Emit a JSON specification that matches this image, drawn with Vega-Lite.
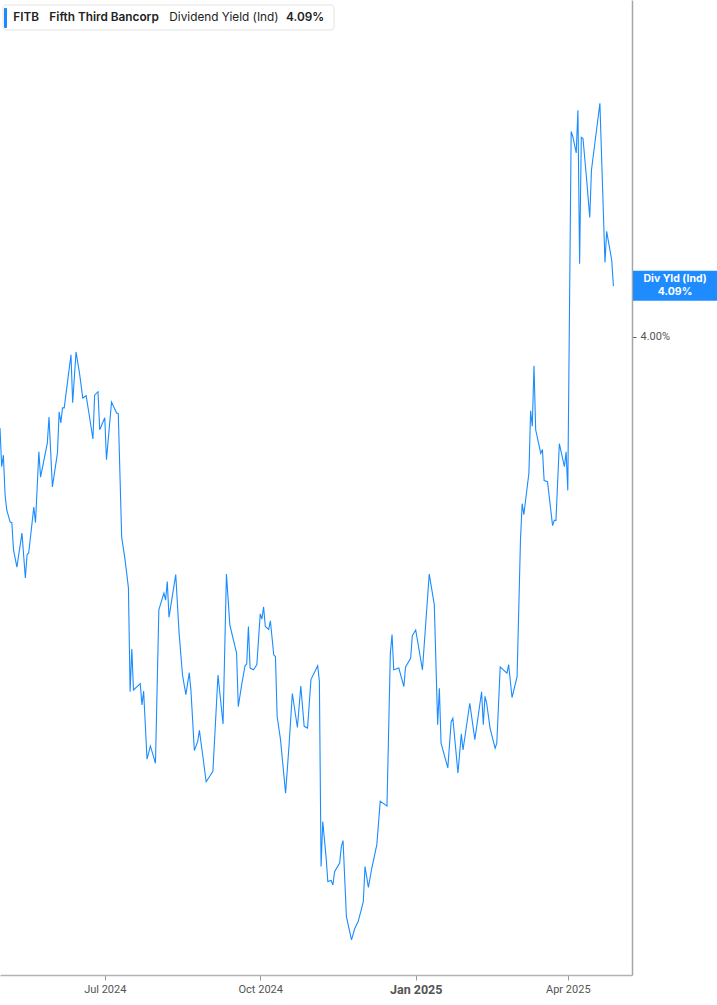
{
  "$schema": "https://vega.github.io/schema/vega-lite/v6.json",
  "width": 632,
  "height": 975,
  "padding": {"left": 0, "top": 0, "right": 85, "bottom": 30},
  "autosize": {"type": "none"},
  "background": "white",
  "config": {"view": {"stroke": null}},
  "datasets": {
    "series": [
      {"date":"2024-04-30","yield":3.842},{"date":"2024-05-01","yield":3.775},{"date":"2024-05-02","yield":3.795},{"date":"2024-05-03","yield":3.726},{"date":"2024-05-04","yield":3.700},{"date":"2024-05-06","yield":3.679},{"date":"2024-05-07","yield":3.678},{"date":"2024-05-08","yield":3.631},{"date":"2024-05-10","yield":3.601},{"date":"2024-05-13","yield":3.660},{"date":"2024-05-15","yield":3.582},{"date":"2024-05-16","yield":3.622},{"date":"2024-05-17","yield":3.626},{"date":"2024-05-20","yield":3.705},{"date":"2024-05-21","yield":3.678},{"date":"2024-05-23","yield":3.801},{"date":"2024-05-24","yield":3.757},{"date":"2024-05-28","yield":3.816},{"date":"2024-05-29","yield":3.861},{"date":"2024-05-31","yield":3.740},
      {"date":"2024-06-03","yield":3.799},{"date":"2024-06-04","yield":3.870},{"date":"2024-06-05","yield":3.851},{"date":"2024-06-06","yield":3.877},{"date":"2024-06-07","yield":3.877},{"date":"2024-06-11","yield":3.969},{"date":"2024-06-12","yield":3.886},{"date":"2024-06-14","yield":3.974},{"date":"2024-06-16","yield":3.938},{"date":"2024-06-18","yield":3.894},{"date":"2024-06-20","yield":3.898},{"date":"2024-06-24","yield":3.823},{"date":"2024-06-25","yield":3.899},{"date":"2024-06-27","yield":3.905},{"date":"2024-06-28","yield":3.839},
      {"date":"2024-07-01","yield":3.860},{"date":"2024-07-02","yield":3.787},{"date":"2024-07-05","yield":3.887},{"date":"2024-07-08","yield":3.868},{"date":"2024-07-09","yield":3.867},{"date":"2024-07-11","yield":3.653},{"date":"2024-07-13","yield":3.614},{"date":"2024-07-15","yield":3.565},{"date":"2024-07-16","yield":3.385},{"date":"2024-07-17","yield":3.459},{"date":"2024-07-18","yield":3.388},{"date":"2024-07-22","yield":3.399},{"date":"2024-07-23","yield":3.362},{"date":"2024-07-24","yield":3.386},{"date":"2024-07-26","yield":3.268},{"date":"2024-07-28","yield":3.291},{"date":"2024-07-31","yield":3.261},
      {"date":"2024-08-02","yield":3.527},{"date":"2024-08-05","yield":3.556},{"date":"2024-08-06","yield":3.544},{"date":"2024-08-07","yield":3.576},{"date":"2024-08-08","yield":3.514},{"date":"2024-08-12","yield":3.588},{"date":"2024-08-14","yield":3.486},{"date":"2024-08-16","yield":3.414},{"date":"2024-08-18","yield":3.380},{"date":"2024-08-20","yield":3.418},{"date":"2024-08-21","yield":3.387},{"date":"2024-08-23","yield":3.283},{"date":"2024-08-25","yield":3.299},{"date":"2024-08-26","yield":3.318},{"date":"2024-08-28","yield":3.274},{"date":"2024-08-30","yield":3.229},
      {"date":"2024-09-03","yield":3.247},{"date":"2024-09-06","yield":3.414},{"date":"2024-09-09","yield":3.329},{"date":"2024-09-11","yield":3.589},{"date":"2024-09-13","yield":3.501},{"date":"2024-09-17","yield":3.452},{"date":"2024-09-18","yield":3.359},{"date":"2024-09-20","yield":3.397},{"date":"2024-09-22","yield":3.430},{"date":"2024-09-23","yield":3.433},{"date":"2024-09-24","yield":3.498},{"date":"2024-09-25","yield":3.426},{"date":"2024-09-27","yield":3.423},{"date":"2024-09-29","yield":3.432},
      {"date":"2024-10-01","yield":3.520},{"date":"2024-10-02","yield":3.511},{"date":"2024-10-03","yield":3.532},{"date":"2024-10-04","yield":3.498},{"date":"2024-10-06","yield":3.493},{"date":"2024-10-07","yield":3.508},{"date":"2024-10-09","yield":3.449},{"date":"2024-10-10","yield":3.446},{"date":"2024-10-11","yield":3.342},{"date":"2024-10-13","yield":3.302},{"date":"2024-10-16","yield":3.209},{"date":"2024-10-18","yield":3.290},{"date":"2024-10-20","yield":3.382},{"date":"2024-10-23","yield":3.323},{"date":"2024-10-25","yield":3.395},{"date":"2024-10-27","yield":3.325},{"date":"2024-10-29","yield":3.322},{"date":"2024-10-31","yield":3.406},
      {"date":"2024-11-04","yield":3.430},{"date":"2024-11-05","yield":3.403},{"date":"2024-11-06","yield":3.082},{"date":"2024-11-07","yield":3.160},{"date":"2024-11-09","yield":3.097},{"date":"2024-11-10","yield":3.056},{"date":"2024-11-12","yield":3.058},{"date":"2024-11-13","yield":3.050},{"date":"2024-11-14","yield":3.073},{"date":"2024-11-17","yield":3.088},{"date":"2024-11-18","yield":3.117},{"date":"2024-11-19","yield":3.127},{"date":"2024-11-21","yield":2.995},{"date":"2024-11-24","yield":2.955},{"date":"2024-11-26","yield":2.975},{"date":"2024-11-28","yield":2.987},
      {"date":"2024-12-01","yield":3.021},{"date":"2024-12-02","yield":3.082},{"date":"2024-12-04","yield":3.046},{"date":"2024-12-06","yield":3.079},{"date":"2024-12-09","yield":3.120},{"date":"2024-12-11","yield":3.195},{"date":"2024-12-13","yield":3.191},{"date":"2024-12-15","yield":3.187},{"date":"2024-12-17","yield":3.452},{"date":"2024-12-18","yield":3.484},{"date":"2024-12-19","yield":3.423},{"date":"2024-12-22","yield":3.426},{"date":"2024-12-25","yield":3.394},{"date":"2024-12-26","yield":3.428},{"date":"2024-12-29","yield":3.443},{"date":"2024-12-30","yield":3.482},
      {"date":"2025-01-01","yield":3.492},{"date":"2025-01-05","yield":3.423},{"date":"2025-01-09","yield":3.589},{"date":"2025-01-12","yield":3.536},{"date":"2025-01-14","yield":3.328},{"date":"2025-01-15","yield":3.391},{"date":"2025-01-16","yield":3.296},{"date":"2025-01-20","yield":3.253},{"date":"2025-01-22","yield":3.333},{"date":"2025-01-23","yield":3.339},{"date":"2025-01-26","yield":3.244},{"date":"2025-01-28","yield":3.312},{"date":"2025-01-29","yield":3.284},
      {"date":"2025-02-02","yield":3.365},{"date":"2025-02-05","yield":3.302},{"date":"2025-02-09","yield":3.385},{"date":"2025-02-10","yield":3.328},{"date":"2025-02-11","yield":3.377},{"date":"2025-02-12","yield":3.365},{"date":"2025-02-14","yield":3.322},{"date":"2025-02-17","yield":3.287},{"date":"2025-02-18","yield":3.296},{"date":"2025-02-20","yield":3.428},{"date":"2025-02-24","yield":3.417},{"date":"2025-02-25","yield":3.432},{"date":"2025-02-27","yield":3.375},
      {"date":"2025-03-02","yield":3.411},{"date":"2025-03-04","yield":3.648},{"date":"2025-03-05","yield":3.711},{"date":"2025-03-06","yield":3.692},{"date":"2025-03-09","yield":3.764},{"date":"2025-03-10","yield":3.872},{"date":"2025-03-11","yield":3.845},{"date":"2025-03-12","yield":3.950},{"date":"2025-03-13","yield":3.839},{"date":"2025-03-16","yield":3.798},{"date":"2025-03-17","yield":3.805},{"date":"2025-03-18","yield":3.751},{"date":"2025-03-20","yield":3.749},{"date":"2025-03-23","yield":3.673},{"date":"2025-03-24","yield":3.682},{"date":"2025-03-25","yield":3.682},{"date":"2025-03-27","yield":3.815},{"date":"2025-03-30","yield":3.775},{"date":"2025-03-31","yield":3.801},
      {"date":"2025-04-01","yield":3.734},{"date":"2025-04-03","yield":4.356},{"date":"2025-04-04","yield":4.347},{"date":"2025-04-06","yield":4.319},{"date":"2025-04-07","yield":4.393},{"date":"2025-04-08","yield":4.127},{"date":"2025-04-09","yield":4.346},{"date":"2025-04-10","yield":4.344},{"date":"2025-04-12","yield":4.278},{"date":"2025-04-14","yield":4.207},{"date":"2025-04-15","yield":4.289},{"date":"2025-04-20","yield":4.405},{"date":"2025-04-23","yield":4.129},{"date":"2025-04-24","yield":4.183},{"date":"2025-04-27","yield":4.133},{"date":"2025-04-28","yield":4.088}
    ],
    "legendBox": [{"date":"2024-05-01T18:36:00Z","date2":"2024-11-13T15:50:00Z","yield":4.5754,"yield2":4.5321}],
    "legendBar": [{"date":"2024-05-02T08:48:00Z","date2":"2024-05-04T03:25:00Z","yield":4.5702,"yield2":4.5355}],
    "legendBold": [
      {"date":"2024-05-07T21:00:00Z","yield":4.5537,"label":"FITB"},
      {"date":"2024-05-29T05:00:00Z","yield":4.5537,"label":"Fifth Third Bancorp"},
      {"date":"2024-10-16T06:00:00Z","yield":4.5537,"label":"4.09%"}
    ],
    "legendNormal": [
      {"date":"2024-08-08T05:00:00Z","yield":4.5537,"label":"Dividend Yield (Ind)"}
    ],
    "tagBox": [{"date":"2025-05-09T14:24:00Z","date2":"2025-06-30T00:00:00Z","yield":4.1149,"yield2":4.0629}],
    "tagText": [
      {"date":"2025-06-03T12:00:00Z","yield":4.0997,"label":"Div Yld (Ind)"},
      {"date":"2025-06-03T12:00:00Z","yield":4.0771,"label":"4.09%"}
    ]
  },
  "encoding": {
    "x": {
      "field": "date",
      "type": "temporal",
      "scale": {"type": "utc", "domain": [{"year": 2024, "month": 4, "date": 30, "utc": true}, {"year": 2025, "month": 5, "date": 9, "utc": true}]},
      "axis": {
        "title": null,
        "grid": false,
        "values": [
          {"year": 2024, "month": 7, "date": 1, "utc": true},
          {"year": 2024, "month": 10, "date": 1, "utc": true},
          {"year": 2025, "month": 1, "date": 1, "utc": true},
          {"year": 2025, "month": 4, "date": 1, "utc": true}
        ],
        "labelExpr": "utcFormat(datum.value, '%b %Y')",
        "domainColor": "#b3b3b3",
        "domainWidth": 1.5,
        "tickColor": "#999999",
        "tickSize": 5,
        "labelColor": "#555555",
        "labelFont": "Roboto",
        "labelFontSize": {"condition": {"test": "utcmonth(datum.value) === 0", "value": 12.5}, "value": 11},
        "labelFontWeight": {"condition": {"test": "utcmonth(datum.value) === 0", "value": "bold"}, "value": "normal"},
        "labelPadding": 3
      }
    },
    "y": {
      "field": "yield",
      "type": "quantitative",
      "scale": {"domain": [2.894, 4.584], "zero": false, "nice": false},
      "axis": {
        "title": null,
        "orient": "right",
        "grid": false,
        "values": [4.0],
        "labelExpr": "format(datum.value, '.2f') + '%'",
        "domainColor": "#a6a6a6",
        "domainWidth": 1.5,
        "tickColor": "#666666",
        "tickSize": 4,
        "labelColor": "#555555",
        "labelFont": "Roboto",
        "labelFontSize": 11,
        "labelPadding": 4
      }
    }
  },
  "layer": [
    {
      "data": {"name": "legendBox"},
      "mark": {"type": "rect", "fill": "white", "stroke": "#e3e3e3", "strokeWidth": 1, "cornerRadius": 3},
      "encoding": {"x2": {"field": "date2"}, "y2": {"field": "yield2"}}
    },
    {
      "data": {"name": "legendBar"},
      "mark": {"type": "rect", "fill": "#1e88ff", "cornerRadius": 1},
      "encoding": {"x2": {"field": "date2"}, "y2": {"field": "yield2"}}
    },
    {
      "data": {"name": "series"},
      "mark": {"type": "line", "color": "#1a8cff", "strokeWidth": 1.1, "interpolate": "linear"},
      "encoding": {}
    },
    {
      "data": {"name": "legendBold"},
      "mark": {"type": "text", "align": "left", "baseline": "middle", "font": "Inter", "fontSize": 11.8, "fontWeight": 600, "color": "#222222"},
      "encoding": {"text": {"field": "label"}}
    },
    {
      "data": {"name": "legendNormal"},
      "mark": {"type": "text", "align": "left", "baseline": "middle", "font": "Inter", "fontSize": 11.8, "fontWeight": "normal", "color": "#222222"},
      "encoding": {"text": {"field": "label"}}
    },
    {
      "data": {"name": "tagBox"},
      "mark": {"type": "rect", "fill": "#1e8cff"},
      "encoding": {"x2": {"field": "date2"}, "y2": {"field": "yield2"}}
    },
    {
      "data": {"name": "tagText"},
      "mark": {"type": "text", "align": "center", "baseline": "middle", "font": "Inter", "fontSize": 10.5, "fontWeight": "bold", "color": "white"},
      "encoding": {"text": {"field": "label"}}
    }
  ]
}
